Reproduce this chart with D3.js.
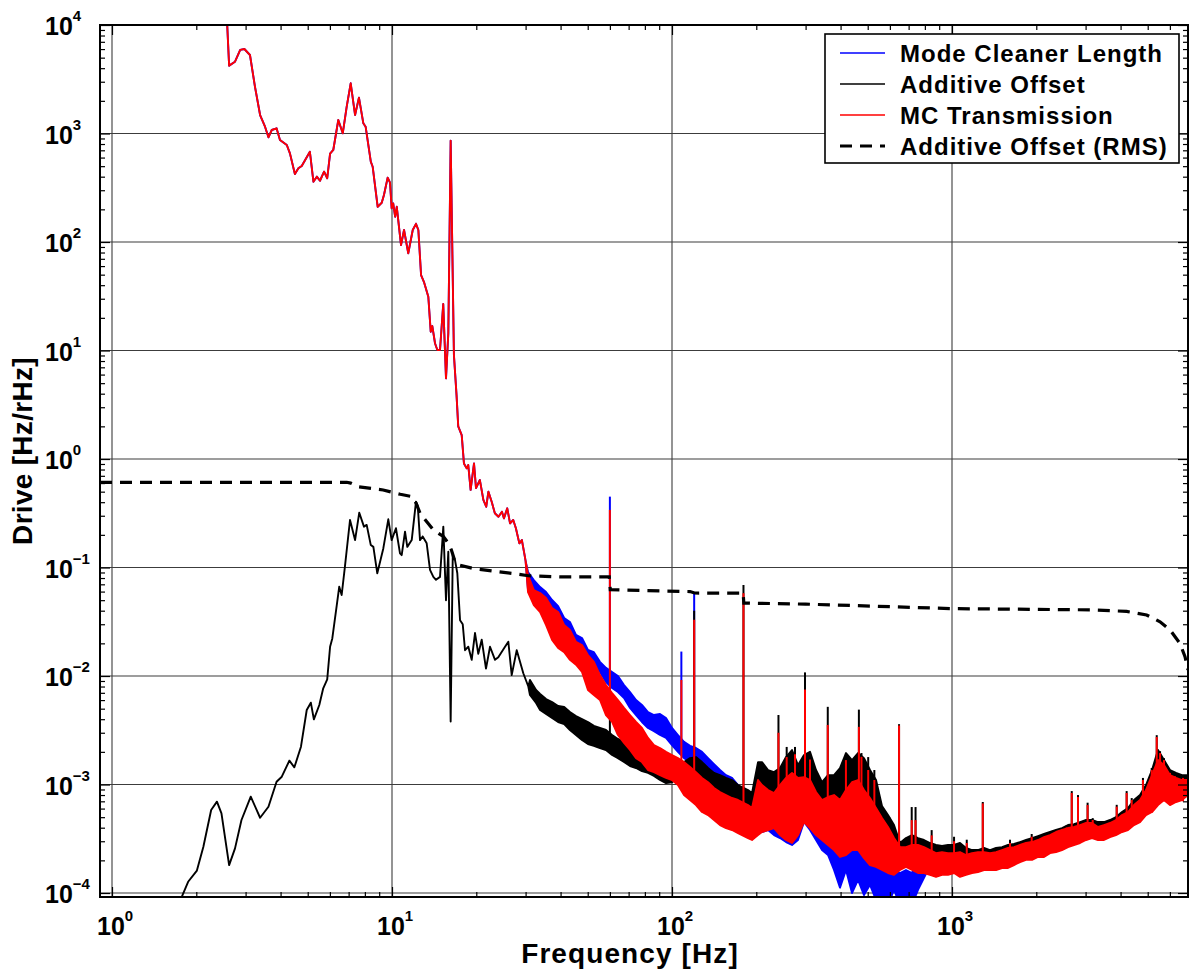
<!DOCTYPE html>
<html>
<head>
<meta charset="utf-8">
<script src="https://cdn.jsdelivr.net/npm/d3@7"></script>
<style>
  body { margin: 0; background: #fff; }
  text { font-family: "Liberation Sans", Arial, Helvetica, sans-serif; font-weight: bold; fill: #000; }
</style>
</head>
<body>
<svg id="chart" width="1191" height="973"></svg>
<script>
// ---------------- data ----------------
// Axis limits
const freqRange = [0.906, 6964];
const driveRange = [9.19e-5, 1e4];

// Decade ticks and their exponent labels
const xMajor = [1, 10, 100, 1000];
const xMajorExp = ["0", "1", "2", "3"];
const yMajor = [1e-4, 1e-3, 1e-2, 1e-1, 1, 10, 100, 1000, 10000];
const yMajorExp = ["\u22124", "\u22123", "\u22122", "\u22121", "0", "1", "2", "3", "4"];

// Spectra: [frequency Hz, upper value, lower value]; a single value means one trace point.
// Below ~30 Hz both mode-cleaner signals coincide.
const mcShared = [
  [2.50, 20000], [2.56, 15000], [2.62, 4220], [2.75, 4590], [2.87, 5890], [2.97, 6010], [3.11, 5290],
  [3.24, 2700], [3.38, 1480], [3.52, 1155], [3.62, 923], [3.72, 1077], [3.87, 1117], [3.98, 871],
  [4.21, 783], [4.32, 656], [4.50, 424], [4.63, 478], [4.76, 501], [5.09, 679], [5.24, 360],
  [5.39, 400], [5.53, 367], [5.72, 445], [5.87, 387], [6.01, 651], [6.17, 705], [6.43, 1331],
  [6.67, 1005], [6.89, 1766], [7.12, 2900], [7.38, 1482], [7.62, 2140], [7.90, 1242], [8.05, 1155],
  [8.40, 550], [8.53, 494], [8.89, 211], [9.19, 230], [9.36, 271], [9.65, 392], [9.84, 352],
  [9.97, 205], [10.1, 227], [10.26, 171], [10.40, 211], [10.77, 93.8], [11.04, 129], [11.43, 78.7],
  [11.86, 129], [12.18, 147], [12.42, 129], [12.70, 49.6], [13.0, 43], [13.48, 31.3], [13.75, 14.9],
  [13.93, 16.8], [14.25, 11.6], [14.52, 10.1], [14.84, 10.1], [15.24, 26.8], [15.59, 5.54],
  [15.89, 14.4], [16.2, 860], [16.64, 9.1], [17.0, 3.9], [17.24, 2.0], [17.74, 1.66], [18.07, 0.91],
  [18.48, 0.82], [18.72, 0.88], [19.09, 0.52], [19.63, 0.91], [19.95, 0.54], [20.6, 0.64],
  [21.2, 0.42], [21.7, 0.363], [22.1, 0.50], [22.7, 0.404], [23.3, 0.316], [24.0, 0.294],
  [24.7, 0.327], [25.1, 0.284], [25.8, 0.351], [26.4, 0.255], [27.1, 0.274], [27.7, 0.230],
  [28.5, 0.167], [29.1, 0.179], [29.6, 0.140], [30.0, 0.115]
];

const mcLengthHigh = [
  [30.6, 0.0908, 0.0620], [32.1, 0.0767, 0.0524], [33.8, 0.0661, 0.0502], [35.5, 0.0594, 0.0424],
  [37.3, 0.0502, 0.0365], [39.2, 0.0440, 0.0295], [41.2, 0.0343, 0.0266], [43.2, 0.0315, 0.0215],
  [45.4, 0.0239, 0.0181], [47.7, 0.0224, 0.0156], [50.1, 0.0174, 0.0135], [52.6, 0.0166, 0.0119],
  [55.3, 0.0135, 0.0109], [58.1, 0.0119, 0.0088], [61.1, 0.0109, 0.00776], [64.1, 0.0100, 0.00712],
  [67.4, 0.00826, 0.00627], [70.8, 0.00712, 0.00508], [74.4, 0.00601, 0.00437], [78.1, 0.00541, 0.00377],
  [82.1, 0.00466, 0.00332], [86.2, 0.00437, 0.00310], [90.6, 0.00447, 0.00286], [95.2, 0.00410, 0.00269],
  [100, 0.00332, 0.00231], [105, 0.00286, 0.00200], [110.4, 0.00247, 0.00175], [116, 0.00227, 0.00161],
  [121.8, 0.00217, 0.00151], [128, 0.00200, 0.00136], [134.5, 0.00175, 0.00120], [141.3, 0.00154, 0.00110],
  [148.4, 0.00136, 0.000969], [155.9, 0.00122, 0.000890], [163.8, 0.00115, 0.000800], [172.1, 0.000989, 0.000647],
  [190, 0.000582, 0.000471], [199.5, 0.000989, 0.000381], [209.6, 0.000890, 0.000365], [220.3, 0.000853, 0.000381],
  [231.4, 0.000800, 0.000342], [243.1, 0.000890, 0.000321], [255.4, 0.000989, 0.000295], [268.3, 0.00110, 0.000277],
  [281.8, 0.000890, 0.000308], [296.1, 0.000800, 0.000451], [311.1, 0.000720, 0.000381], [326.8, 0.000582, 0.000308],
  [343.4, 0.000523, 0.000249], [360.7, 0.000471, 0.000224], [379, 0.000423, 0.000163], [398.1, 0.000471, 0.000112],
  [418.3, 0.000523, 0.000163], [439.4, 0.000471, 0.0001], [461.7, 0.000523, 0.000132], [485, 0.000381, 0.0000958],
  [509.5, 0.000342, 0.000119], [535.4, 0.000249, 0.0000862], [562.3, 0.000202, 0.0000775], [590.8, 0.000181, 0.0000775],
  [620.7, 0.000163, 0.000107], [652.1, 0.000153, 0.0000775], [685, 0.000163, 0.0000958], [719.7, 0.000153, 0.0000775],
  [756.1, 0.000202, 0.000107], [834.5, 0.000210, 0.000178], [921, 0.000202, 0.000170], [1017, 0.000210, 0.000178],
  [1122, 0.000202, 0.000170], [1238, 0.000210, 0.000185], [1367, 0.000210, 0.000185], [1509, 0.000224, 0.000193],
  [1665, 0.000238, 0.000210], [1838, 0.000260, 0.000224], [2029, 0.000277, 0.000238], [2239, 0.000308, 0.000260],
  [2471, 0.000335, 0.000277], [2728, 0.000365, 0.000308], [3011, 0.000397, 0.000342], [3322, 0.000381, 0.000335],
  [3667, 0.000397, 0.000357], [4047, 0.000471, 0.000397], [4467, 0.000558, 0.000471], [4930, 0.000720, 0.000582],
  [5442, 0.000989, 0.000720], [6006, 0.000989, 0.000720], [6629, 0.000989, 0.000800], [6964, 0.000989, 0.000853]
];

const mcTransHigh = [
  [30.6, 0.0853, 0.0594], [32.1, 0.0620, 0.0451], [33.8, 0.0582, 0.0389], [35.5, 0.0524, 0.0295],
  [37.3, 0.0424, 0.0215], [39.2, 0.0389, 0.0181], [41.2, 0.0295, 0.0166], [43.2, 0.0266, 0.0141],
  [45.4, 0.0206, 0.0127], [47.7, 0.0193, 0.0109], [50.1, 0.0156, 0.00743], [52.6, 0.0135, 0.00668],
  [55.3, 0.0102, 0.00601], [58.1, 0.00826, 0.00437], [61.1, 0.00697, 0.00377], [64.1, 0.00601, 0.00286],
  [67.4, 0.00508, 0.00242], [70.8, 0.00437, 0.00208], [74.4, 0.00377, 0.00175], [78.1, 0.00332, 0.00161],
  [82.1, 0.00269, 0.00136], [86.2, 0.00231, 0.00130], [90.6, 0.00217, 0.00122], [95.2, 0.00200, 0.00115],
  [100, 0.00187, 0.00110], [105, 0.00175, 0.000989], [110.4, 0.00161, 0.000800], [116, 0.00145, 0.000720],
  [121.8, 0.00130, 0.000647], [128, 0.00115, 0.000558], [134.5, 0.00105, 0.000523], [141.3, 0.000928, 0.000471],
  [148.4, 0.000853, 0.000423], [155.9, 0.000800, 0.000397], [163.8, 0.000751, 0.000381], [172.1, 0.000720, 0.000357],
  [186.8, 0.000647, 0.000321], [193.1, 0.000608, 0.000308], [202.9, 0.00110, 0.000342], [209.6, 0.000989, 0.000365],
  [220.3, 0.000890, 0.000381], [231.4, 0.000835, 0.000397], [243.1, 0.000989, 0.000342], [255.4, 0.00115, 0.000308],
  [268.3, 0.00128, 0.000289], [281.8, 0.00115, 0.000342], [296.1, 0.00117, 0.000451], [311.1, 0.00110, 0.000397],
  [326.8, 0.000853, 0.000342], [343.4, 0.000720, 0.000308], [360.7, 0.000767, 0.000277], [379, 0.000800, 0.000249],
  [398.1, 0.000720, 0.000215], [418.3, 0.000890, 0.000224], [439.4, 0.00105, 0.000249], [461.7, 0.00110, 0.000249],
  [485, 0.000890, 0.000210], [509.5, 0.000751, 0.000181], [535.4, 0.000608, 0.000174], [562.3, 0.000491, 0.000163],
  [590.8, 0.000406, 0.000153], [620.7, 0.000321, 0.000147], [652.1, 0.000265, 0.000163], [685, 0.000265, 0.000174],
  [719.7, 0.000277, 0.000163], [756.1, 0.000277, 0.000153], [794.3, 0.000265, 0.000153], [834.5, 0.000249, 0.000147],
  [876.7, 0.000233, 0.000141], [921, 0.000238, 0.000147], [967.6, 0.000233, 0.000147], [1017, 0.000233, 0.000153],
  [1068, 0.000238, 0.000141], [1122, 0.000224, 0.000147], [1179, 0.000233, 0.000153], [1238, 0.000238, 0.000156],
  [1301, 0.000238, 0.000163], [1367, 0.000233, 0.000163], [1436, 0.000238, 0.000163], [1509, 0.000249, 0.000170],
  [1585, 0.000260, 0.000170], [1665, 0.000265, 0.000181], [1750, 0.000277, 0.000193], [1838, 0.000289, 0.000202],
  [1931, 0.000295, 0.000202], [2029, 0.000308, 0.000215], [2131, 0.000328, 0.000215], [2239, 0.000342, 0.000233],
  [2352, 0.000365, 0.000238], [2471, 0.000381, 0.000249], [2596, 0.000397, 0.000265], [2728, 0.000406, 0.000277],
  [2866, 0.000423, 0.000289], [3011, 0.000442, 0.000308], [3162, 0.000442, 0.000321], [3322, 0.000406, 0.000308],
  [3490, 0.000423, 0.000308], [3667, 0.000442, 0.000328], [3852, 0.000471, 0.000342], [4047, 0.000523, 0.000365],
  [4252, 0.000558, 0.000381], [4467, 0.000647, 0.000423], [4693, 0.000720, 0.000451], [4930, 0.000890, 0.000523],
  [5180, 0.00122, 0.000558], [5442, 0.00168, 0.000647], [5717, 0.00151, 0.000720], [6006, 0.00122, 0.000647],
  [6310, 0.00115, 0.000690], [6629, 0.00110, 0.000720], [6964, 0.00110, 0.000800]
];

const offsetLow = [
  [1.72, 7.6e-5], [1.87, 1.27e-4], [2.01, 1.61e-4], [2.12, 2.67e-4], [2.26, 5.82e-4], [2.37, 6.95e-4],
  [2.46, 5.42e-4], [2.62, 1.81e-4], [2.75, 2.58e-4], [2.90, 4.71e-4], [3.13, 7.73e-4], [3.38, 4.94e-4],
  [3.62, 6.24e-4], [3.87, 1.06e-3], [4.04, 1.18e-3], [4.30, 1.66e-3], [4.48, 1.44e-3], [4.73, 2.23e-3],
  [4.96, 4.86e-3], [5.13, 5.68e-3], [5.26, 3.99e-3], [5.50, 5.41e-3], [5.68, 7.7e-3], [5.87, 9.3e-3],
  [6.01, 0.0186], [6.12, 0.0222], [6.35, 0.045], [6.48, 0.0665], [6.61, 0.0558], [6.79, 0.1017],
  [7.08, 0.274], [7.38, 0.179], [7.64, 0.32], [7.94, 0.238], [8.12, 0.247], [8.40, 0.161], [8.58, 0.155],
  [8.86, 0.0885], [9.31, 0.150], [9.70, 0.278], [9.97, 0.179], [10.33, 0.23], [10.68, 0.135],
  [10.83, 0.130], [11.13, 0.214], [11.34, 0.155], [11.76, 0.179], [12.18, 0.404], [12.36, 0.37],
  [12.59, 0.179], [12.87, 0.193], [13.30, 0.167], [13.67, 0.095], [14.05, 0.082], [14.36, 0.077],
  [14.84, 0.082], [15.25, 0.238], [15.59, 0.050], [15.89, 0.14], [16.2, 0.0038], [16.48, 0.13],
  [16.79, 0.117], [17.11, 0.0885], [17.50, 0.0327], [17.89, 0.030], [18.23, 0.0173], [18.73, 0.0186],
  [19.26, 0.0141], [19.79, 0.0249], [20.33, 0.016], [20.91, 0.0216], [21.66, 0.0117], [22.39, 0.0186],
  [23.33, 0.0141], [23.97, 0.0149], [25.33, 0.0186], [26.03, 0.0207], [26.76, 0.0102], [27.89, 0.0173],
  [29.44, 0.0106], [30.68, 0.0080]
];

const offsetHigh = [
  [31.1, 0.00919, 0.00668], [32.7, 0.00743, 0.00564], [33.8, 0.00683, 0.00486], [35.5, 0.00614, 0.00447],
  [37.3, 0.00576, 0.00410], [39.2, 0.00530, 0.00377], [41.2, 0.00519, 0.00361], [43.2, 0.00466, 0.00318],
  [45.4, 0.00428, 0.00286], [47.7, 0.00401, 0.00257], [50.1, 0.00377, 0.00236], [52.6, 0.00347, 0.00227],
  [55.3, 0.00332, 0.00217], [58.1, 0.00318, 0.00208], [61.1, 0.00286, 0.00187], [64.1, 0.00263, 0.00175],
  [67.4, 0.00247, 0.00161], [70.8, 0.00227, 0.00148], [74.4, 0.00217, 0.00142], [78.1, 0.00208, 0.00133],
  [82.1, 0.00191, 0.00128], [86.2, 0.00172, 0.00120], [90.6, 0.00168, 0.00110], [95.2, 0.00161, 0.00103],
  [100, 0.00158, 0.00105], [105, 0.00168, 0.00115], [110.4, 0.00161, 0.00110], [116, 0.00175, 0.00110],
  [121.8, 0.00179, 0.00110], [128, 0.00161, 0.00103], [134.5, 0.00142, 0.000890], [141.3, 0.00128, 0.000835],
  [148.4, 0.00122, 0.000767], [155.9, 0.00115, 0.000720], [163.8, 0.00110, 0.000676], [172.1, 0.000989, 0.000608],
  [186.8, 0.000890, 0.000582], [193.1, 0.000835, 0.000547], [202.9, 0.00161, 0.000800], [209.6, 0.00161, 0.000800],
  [220.3, 0.00136, 0.000751], [231.4, 0.00130, 0.000720], [243.1, 0.00142, 0.000720], [255.4, 0.00179, 0.000800],
  [268.3, 0.00208, 0.000800], [281.8, 0.00151, 0.000720], [296.1, 0.00187, 0.000720], [311.1, 0.00200, 0.000676],
  [326.8, 0.00136, 0.000582], [343.4, 0.00105, 0.000523], [360.7, 0.00122, 0.000471], [379, 0.00122, 0.000451],
  [398.1, 0.00142, 0.000451], [418.3, 0.00195, 0.000523], [439.4, 0.00168, 0.000491], [461.7, 0.00195, 0.000523],
  [485, 0.00175, 0.000451], [509.5, 0.00136, 0.000397], [535.4, 0.00110, 0.000342], [562.3, 0.000634, 0.000277],
  [590.8, 0.000523, 0.000224], [620.7, 0.000423, 0.000202], [652.1, 0.000289, 0.000170], [685, 0.000321, 0.000193],
  [719.7, 0.000342, 0.000202], [756.1, 0.000321, 0.000193], [794.3, 0.000308, 0.000193], [834.5, 0.000289, 0.000181],
  [876.7, 0.000277, 0.000174], [921, 0.000271, 0.000174], [967.6, 0.000277, 0.000181], [1017, 0.000277, 0.000193],
  [1068, 0.000289, 0.000193], [1122, 0.000260, 0.000181], [1179, 0.000249, 0.000170], [1238, 0.000249, 0.000178],
  [1301, 0.000260, 0.000178], [1367, 0.000249, 0.000178], [1436, 0.000260, 0.000181], [1509, 0.000265, 0.000193],
  [1585, 0.000277, 0.000202], [1665, 0.000283, 0.000210], [1750, 0.000295, 0.000219], [1838, 0.000308, 0.000229],
  [1931, 0.000321, 0.000238], [2029, 0.000335, 0.000249], [2131, 0.000350, 0.000249], [2239, 0.000365, 0.000265],
  [2352, 0.000381, 0.000277], [2471, 0.000397, 0.000289], [2596, 0.000423, 0.000308], [2728, 0.000432, 0.000321],
  [2866, 0.000451, 0.000335], [3011, 0.000471, 0.000342], [3162, 0.000471, 0.000357], [3322, 0.000451, 0.000342],
  [3490, 0.000451, 0.000342], [3667, 0.000471, 0.000365], [3852, 0.000502, 0.000381], [4047, 0.000558, 0.000406],
  [4252, 0.000608, 0.000423], [4467, 0.000720, 0.000471], [4693, 0.000800, 0.000523], [4930, 0.000989, 0.000582],
  [5180, 0.00136, 0.000647], [5442, 0.00208, 0.000800], [5717, 0.00168, 0.000800], [6006, 0.00136, 0.000720],
  [6310, 0.00128, 0.000751], [6629, 0.00122, 0.000800], [6964, 0.00122, 0.000890]
];

// Narrow lines (mains harmonics etc.): [frequency Hz, peak value, base value]
const mcLengthLines = [[60, 0.45, 0.004], [108, 0.0168, 0.0022], [120, 0.058, 0.0018]];

const offsetLines = [
  [60, 0.0070, 0.0022], [120, 0.040, 0.0015], [180, 0.069, 0.0008], [240, 0.00437, 0.0008],
  [256.8, 0.00222, 0.0008], [275, 0.00222, 0.0008], [298.5, 0.0108, 0.0008], [311, 0.00200, 0.0007],
  [360, 0.0052, 0.0005], [418, 0.00195, 0.0005], [465, 0.0049, 0.0005], [475, 0.00195, 0.0005],
  [502, 0.00179, 0.0004], [528, 0.00136, 0.0004], [597, 0.00050, 0.00025], [647, 0.0036, 0.0002],
  [718, 0.00062, 0.0002], [741, 0.00062, 0.0002], [846, 0.00038, 0.0002], [1017, 0.00033, 0.0002],
  [1129, 0.00031, 0.0002], [1288, 0.00069, 0.0002], [1611, 0.00031, 0.0002], [1926, 0.00035, 0.00024],
  [2391, 0.00038, 0.00028], [2568, 0.00042, 0.0003], [2677, 0.00087, 0.0003], [2818, 0.00080, 0.00033],
  [3050, 0.00068, 0.00034], [3181, 0.00049, 0.00035], [3875, 0.00065, 0.00038], [4205, 0.00087, 0.0004],
  [4384, 0.00075, 0.00045], [4617, 0.00072, 0.0005], [4808, 0.00115, 0.00055], [5167, 0.00142, 0.0006],
  [5385, 0.00285, 0.0007], [5534, 0.00203, 0.0008], [5717, 0.00175, 0.0008], [6006, 0.00133, 0.0007],
  [6257, 0.00124, 0.0007], [6683, 0.00120, 0.0008]
];

const mcTransLines = [
  [60, 0.34, 0.004], [108, 0.0092, 0.0009], [120, 0.033, 0.0008], [180, 0.058, 0.0005], [240, 0.0030, 0.0005],
  [256.8, 0.00179, 0.0004], [275, 0.0019, 0.0004], [298.5, 0.0075, 0.0005], [311, 0.0017, 0.0004],
  [360, 0.00354, 0.0003], [418, 0.00168, 0.0003], [465, 0.0034, 0.0003], [475, 0.00180, 0.0003],
  [502, 0.00136, 0.0003], [528, 0.0011, 0.0002], [647, 0.0035, 0.0002], [718, 0.00047, 0.0002],
  [741, 0.00047, 0.0002], [846, 0.00034, 0.00018], [1017, 0.00030, 0.00018], [1129, 0.000289, 0.00018],
  [1288, 0.00067, 0.00018], [1611, 0.000289, 0.0002], [1926, 0.00033, 0.00022], [2391, 0.000357, 0.00026],
  [2568, 0.000402, 0.00028], [2677, 0.000835, 0.0003], [2818, 0.000767, 0.0003], [3050, 0.000647, 0.00032],
  [3181, 0.000471, 0.00033], [3875, 0.000625, 0.00036], [4205, 0.000835, 0.0004], [4384, 0.00072, 0.00042],
  [4617, 0.00069, 0.00045], [4808, 0.0011, 0.0005], [5167, 0.00136, 0.00055], [5385, 0.00274, 0.0007],
  [5534, 0.00195, 0.0007], [5717, 0.00168, 0.0007], [6006, 0.00128, 0.0007], [6257, 0.00119, 0.0007],
  [6683, 0.00115, 0.0007]
];

// Cumulative RMS of the additive offset drive
const offsetRms = [
  [0.906, 0.61], [6.89, 0.61], [7.12, 0.60], [7.6, 0.555], [9.3, 0.518], [10.7, 0.473], [11.8, 0.45],
  [12.2, 0.39], [12.6, 0.316], [14.05, 0.222], [15.25, 0.193], [15.9, 0.167], [16.3, 0.145],
  [16.8, 0.113], [17.5, 0.105], [19.5, 0.098], [23.5, 0.092], [27.9, 0.087], [30.7, 0.084],
  [40, 0.082], [59.7, 0.082], [60.2, 0.0625], [116, 0.060], [120.3, 0.0582], [179.5, 0.058],
  [180.5, 0.047], [300, 0.046], [1000, 0.0418], [3162, 0.0407], [4205, 0.0394], [4955, 0.0365],
  [5534, 0.0316], [6006, 0.0266], [6516, 0.020], [6795, 0.0151], [6964, 0.0114]
];

const legendItems = [
  { label: "Mode Cleaner Length", color: "#0000ff", dash: null },
  { label: "Additive Offset", color: "#000000", dash: null },
  { label: "MC Transmission", color: "#ff0000", dash: null },
  { label: "Additive Offset (RMS)", color: "#000000", dash: "12,8" }
];

// ---------------- layout ----------------
const X0 = 100, X1 = 1188, Y0 = 25, Y1 = 897;
const svg = d3.select("#chart");
const x = d3.scaleLog().domain(freqRange).range([X0, X1]);
const y = d3.scaleLog().domain(driveRange).range([Y1, Y0]);

const isDecade = v => Math.abs(Math.log10(v) - Math.round(Math.log10(v))) < 1e-9;
const xMinor = x.ticks().filter(v => !isDecade(v));
const yMinor = y.ticks().filter(v => !isDecade(v));

svg.append("defs").append("clipPath").attr("id", "plotClip")
  .append("rect").attr("x", X0).attr("y", Y0).attr("width", X1 - X0).attr("height", Y1 - Y0);

// grid at decades
const grid = svg.append("g").attr("stroke", "#3c3c3c").attr("stroke-width", 1.1);
xMajor.forEach(v => grid.append("line").attr("x1", x(v)).attr("x2", x(v)).attr("y1", Y0).attr("y2", Y1));
yMajor.forEach(v => grid.append("line").attr("x1", X0).attr("x2", X1).attr("y1", y(v)).attr("y2", y(v)));

// ---------------- series ----------------
const plot = svg.append("g").attr("clip-path", "url(#plotClip)");
const band = d3.area()
  .x(d => x(d[0]))
  .y0(d => y(d.length > 2 ? d[2] : d[1]))
  .y1(d => y(d[1]));

function drawSpectrum(data, lines, color) {
  plot.append("path").attr("d", band(data))
    .attr("fill", color).attr("stroke", color)
    .attr("stroke-width", 1.9).attr("stroke-linejoin", "round");
  plot.append("g").selectAll("line").data(lines).join("line")
    .attr("x1", d => x(d[0])).attr("x2", d => x(d[0]))
    .attr("y1", d => y(d[1])).attr("y2", d => y(d[2]))
    .attr("stroke", color).attr("stroke-width", 2);
}

drawSpectrum(mcShared.concat(mcLengthHigh), mcLengthLines, "#0000ff");
drawSpectrum(offsetLow.concat(offsetHigh), offsetLines, "#000000");
drawSpectrum(mcShared.concat(mcTransHigh), mcTransLines, "#ff0000");

plot.append("path")
  .attr("d", d3.line().x(d => x(d[0])).y(d => y(d[1]))(offsetRms))
  .attr("fill", "none").attr("stroke", "#000").attr("stroke-width", 3.2)
  .attr("stroke-dasharray", "12,8");

// ---------------- axes (inward ticks on all four sides) ----------------
function tickAxis(axisFn, scale, values, size, transform) {
  const g = svg.append("g").attr("transform", transform)
    .call(axisFn(scale).tickValues(values).tickSize(-size).tickSizeOuter(0).tickFormat(""));
  g.select(".domain").remove();
  g.selectAll(".tick line").attr("stroke", "#000").attr("stroke-width", 1.2);
}
tickAxis(d3.axisBottom, x, xMinor, 5, `translate(0,${Y1})`);
tickAxis(d3.axisBottom, x, xMajor, 10, `translate(0,${Y1})`);
tickAxis(d3.axisTop, x, xMinor, 5, `translate(0,${Y0})`);
tickAxis(d3.axisTop, x, xMajor, 10, `translate(0,${Y0})`);
tickAxis(d3.axisLeft, y, yMinor, 5, `translate(${X0},0)`);
tickAxis(d3.axisLeft, y, yMajor, 10, `translate(${X0},0)`);
tickAxis(d3.axisRight, y, yMinor, 5, `translate(${X1},0)`);
tickAxis(d3.axisRight, y, yMajor, 10, `translate(${X1},0)`);

svg.append("rect").attr("x", X0).attr("y", Y0).attr("width", X1 - X0).attr("height", Y1 - Y0)
  .attr("fill", "none").attr("stroke", "#000").attr("stroke-width", 2);

// decade labels with superscript exponents
xMajor.forEach((v, i) => {
  const t = svg.append("text").attr("x", x(v) - 15).attr("y", Y1 + 38).attr("font-size", 25);
  t.append("tspan").text("10");
  t.append("tspan").attr("dy", -14).attr("font-size", 15).text(xMajorExp[i]);
});
yMajor.forEach((v, i) => {
  const t = svg.append("text").attr("x", 45).attr("y", y(v) + 10).attr("font-size", 25);
  t.append("tspan").text("10");
  t.append("tspan").attr("dy", -14).attr("font-size", 15).text(yMajorExp[i]);
});

svg.append("text").attr("x", 630).attr("y", 963).attr("text-anchor", "middle")
  .attr("font-size", 28).attr("letter-spacing", 1.1).text("Frequency [Hz]");
svg.append("text").attr("transform", "translate(32,451) rotate(-90)")
  .attr("text-anchor", "middle").attr("font-size", 28).attr("letter-spacing", 0.3).text("Drive [Hz/rHz]");

// ---------------- legend ----------------
const lg = svg.append("g");
lg.append("rect").attr("x", 825).attr("y", 34).attr("width", 354).attr("height", 129)
  .attr("fill", "#fff").attr("stroke", "#000").attr("stroke-width", 1.6);
legendItems.forEach((d, i) => {
  const cy = 53 + i * 31;
  lg.append("line").attr("x1", 840).attr("x2", 885).attr("y1", cy).attr("y2", cy)
    .attr("stroke", d.color).attr("stroke-width", d.dash ? 3.2 : 1.6)
    .attr("stroke-dasharray", d.dash);
  lg.append("text").attr("x", 900).attr("y", cy + 8.5).attr("font-size", 24)
    .attr("letter-spacing", 1).text(d.label);
});
</script>
</body>
</html>
